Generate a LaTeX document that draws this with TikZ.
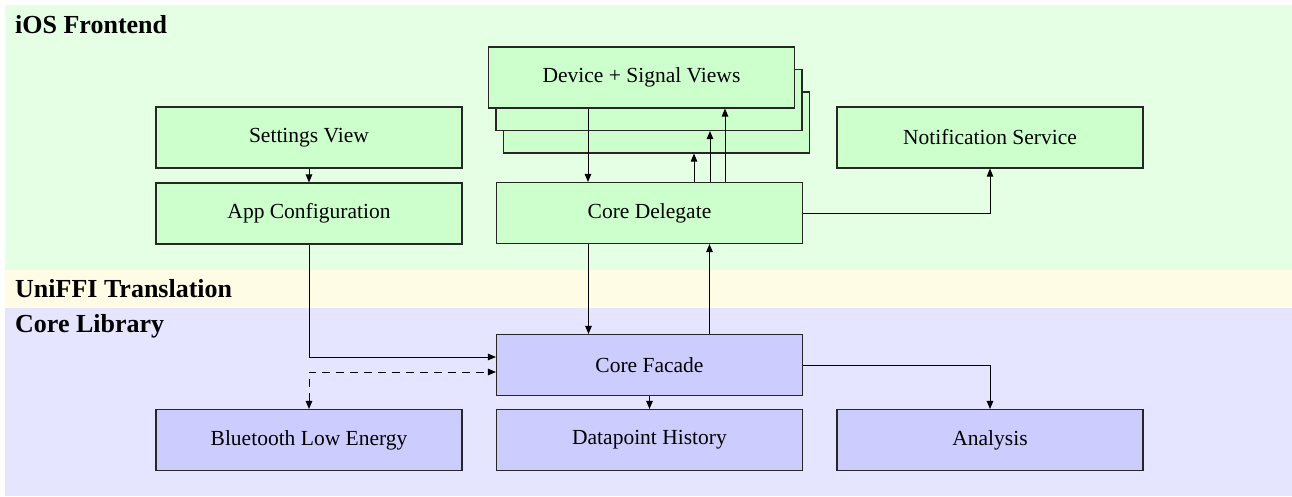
\documentclass[tikz,border=0pt]{standalone}
\usepackage{fontspec}
\setmainfont{Liberation Serif}
\usetikzlibrary{arrows.meta,calc}
\definecolor{bandgreen}{HTML}{E5FFE5}
\definecolor{bandyellow}{HTML}{FFFCE5}
\definecolor{bandblue}{HTML}{E5E5FF}
\definecolor{boxgreen}{HTML}{CCFFCC}
\definecolor{boxblue}{HTML}{CCCCFF}
\begin{document}
\begin{tikzpicture}[x=1pt,y=-1pt,
  box/.style={draw=black!85,line width=1.1pt,minimum width=306pt,minimum height=61pt,inner sep=0pt,font=\fontsize{21.5}{24}\selectfont},
  gbox/.style={box,fill=boxgreen},
  bbox/.style={box,fill=boxblue},
  heading/.style={anchor=base west,inner sep=0pt,font=\fontsize{26}{30}\selectfont\bfseries},
  conn/.style={line width=1pt,-{Triangle[length=8pt,width=6.5pt]}},
  dconn/.style={line width=1pt,dash pattern=on 8pt off 6pt,{Triangle[length=8pt,width=6.5pt]}-{Triangle[length=8pt,width=6.5pt]}}
]
\useasboundingbox[fill=white] (0,0) rectangle (1292,496);
% bands
\fill[bandgreen] (5,5) rectangle (1292,270);
\fill[bandyellow] (5,270) rectangle (1292,308);
\fill[bandblue] (5,308) rectangle (1292,496);
\node[heading] (hios) at (15,33) {iOS Frontend};
\node[heading] (huni) at (15,297) {UniFFI Translation};
\node[heading] (hcore) at (15,332) {Core Library};
% frontend
\node[gbox] (settings) at (309,137.5) {Settings View};
\node[gbox] (appconf) at (309,213.5) {App Configuration};
\node[gbox] (dev3) at (656.5,122.5) {};
\node[gbox] (dev2) at (649,100) {};
\node[gbox] (dev) at (641.5,77.5) {Device + Signal Views};
\node[gbox] (delegate) at (649.5,213) {Core Delegate};
\node[gbox] (notif) at (990,137.5) {Notification Service};
% core
\node[bbox] (facade) at (649.5,365) {Core Facade};
\node[bbox] (ble) at (309,440) {Bluetooth Low Energy};
\node[bbox] (hist) at (649.5,440) {Datapoint History};
\node[bbox] (analysis) at (990,440) {Analysis};
% connectors
\draw[conn] (settings.south) -- (appconf.north);
\draw[conn] (appconf.south) |- ([yshift=8pt]facade.west);
\draw[dconn] (ble.north) |- ([yshift=-7pt]facade.west);
\draw[conn] (facade.south) -- (hist.north);
\draw[conn] (facade.east) -| (analysis.north);
\draw[conn] ([xshift=-61pt]delegate.south) -- ([xshift=-61pt]facade.north);
\draw[conn] ([xshift=60pt]facade.north) -- ([xshift=60pt]delegate.south);
\draw[conn] (delegate.east) -| (notif.south);
\draw[conn] ([xshift=-53.5pt]dev.south) -- ([xshift=-53.5pt]dev.south |- delegate.north);
\draw[conn] ([xshift=44.5pt]delegate.north) -- ([xshift=44.5pt]delegate.north |- dev3.south);
\draw[conn] ([xshift=60.5pt]delegate.north) -- ([xshift=60.5pt]delegate.north |- dev2.south);
\draw[conn] ([xshift=75.5pt]delegate.north) -- ([xshift=75.5pt]delegate.north |- dev.south);
\end{tikzpicture}
\end{document}
